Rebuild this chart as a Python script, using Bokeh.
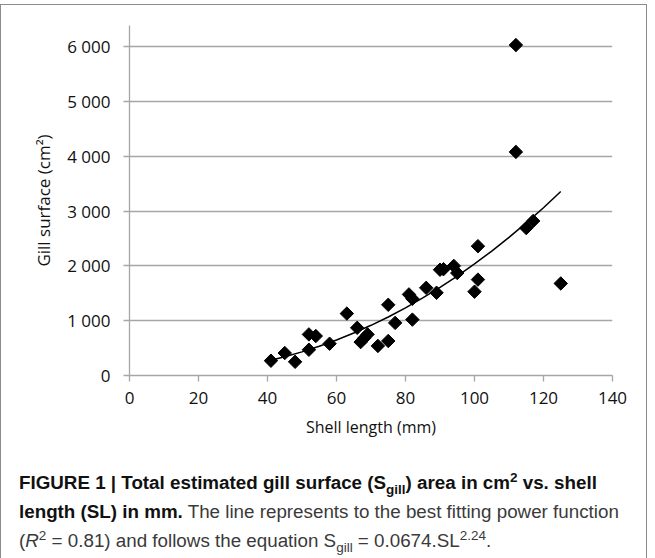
import numpy as np
from bokeh.plotting import figure
from bokeh.models import Div, FixedTicker, Range1d
from bokeh.layouts import column
from bokeh.embed import file_html
from bokeh.resources import INLINE

# ---- data ----
shell_length = [41, 45, 48, 52, 52, 54, 58, 63, 66, 67, 68, 69, 72, 75, 75, 77,
                81, 82, 82, 86, 89, 90, 91, 94, 95, 100, 101, 101, 112, 112,
                115, 117, 125]
gill_surface = [270, 410, 250, 750, 470, 720, 580, 1130, 870, 610, 680, 750,
                540, 630, 1290, 960, 1480, 1400, 1020, 1600, 1510, 1930, 1940,
                2000, 1870, 1530, 2360, 1750, 6030, 4080, 2690, 2820, 1680]

# best-fitting power curve, as drawn
fit_length = [41, 45, 50, 55, 60, 65, 70, 75, 80, 85, 90, 95, 100, 105, 110,
              115, 120, 125]
fit_surface = [277, 341, 431, 534, 648, 775, 916, 1068, 1235, 1415, 1608, 1813,
               2036, 2271, 2520, 2785, 3062, 3357]

x_ticks = [0, 20, 40, 60, 80, 100, 120, 140]
y_ticks = [0, 1000, 2000, 3000, 4000, 5000, 6000]
y_tick_labels = ["0", "1 000", "2 000", "3 000", "4 000", "5 000", "6 000"]

x_title = "Shell length (mm)"
y_title = "Gill surface (cm²)"

GRID = "#a6a6a6"
FONT = "Open Sans"

p = figure(width=635, height=440,
           x_range=Range1d(0, 140), y_range=Range1d(0, 6387),
           output_backend="svg", toolbar_location=None,
           min_border_left=128, min_border_right=24,
           min_border_top=20, min_border_bottom=70)
p.outline_line_color = None
p.background_fill_color = "white"
p.border_fill_color = "white"

p.xgrid.visible = False
p.ygrid.ticker = FixedTicker(ticks=y_ticks)
p.ygrid.grid_line_color = GRID
p.ygrid.grid_line_width = 1.3

p.xaxis.ticker = FixedTicker(ticks=x_ticks)
p.yaxis.ticker = FixedTicker(ticks=y_ticks)
p.yaxis.major_label_overrides = {t: l for t, l in zip(y_ticks, y_tick_labels)}

for ax in (p.xaxis, p.yaxis):
    ax.axis_line_color = GRID
    ax.axis_line_width = 1.3
    ax.major_tick_line_color = GRID
    ax.major_tick_line_width = 1.3
    ax.major_tick_out = 6
    ax.major_tick_in = 0
    ax.minor_tick_line_color = None
    ax.major_label_text_font = FONT
    ax.major_label_text_font_size = "17px"
    ax.major_label_text_color = "#111111"
    ax.axis_label_text_font = FONT
    ax.axis_label_text_font_style = "normal"
    ax.axis_label_text_color = "#111111"

p.xaxis.axis_label_text_font_size = "16px"
p.yaxis.axis_label_text_font_size = "17px"
p.xaxis.major_label_standoff = 10
p.yaxis.major_label_standoff = 13
p.xaxis.axis_label = x_title
p.yaxis.axis_label = y_title
p.xaxis.axis_label_standoff = 9
p.yaxis.axis_label_standoff = 9

p.line(fit_length, fit_surface, line_color="black", line_width=1.5)
p.scatter(shell_length, gill_surface, marker="square", angle=np.pi / 4,
          size=9.5, fill_color="black", line_color="black")

caption_html = (
    '<style>.cap sub, .cap sup {line-height: 0; font-size: 72%;}</style>'
    '<div class="cap" style="font-family: \'Liberation Sans Narrow\', \'Liberation Sans\', sans-serif; '
    'font-size: 18.8px; line-height: 29px; color: #3a3a3a; white-space: nowrap; '
    'padding-top: 18px; padding-left: 13px;">'
    '<b style="color:#111">FIGURE 1 | Total estimated gill surface (S<sub>gill</sub>) area in '
    'cm<sup>2</sup> vs. shell<br>length (SL) in mm.</b> The line represents to the best '
    'fitting power function<br>(<i>R</i><sup>2</sup> = 0.81) and follows the equation '
    'S<sub>gill</sub> = 0.0674.SL<sup>2.24</sup>.</div>'
)
caption = Div(text=caption_html, width=635, height=103)

layout = column(p, caption, spacing=0,
                styles={"border-left": "1px solid #8c8c8c",
                        "border-top": "1px solid #8c8c8c",
                        "border-right": "1px solid #8c8c8c",
                        "margin-top": "4px"})

open("out.html", "w").write(file_html(layout, INLINE))
